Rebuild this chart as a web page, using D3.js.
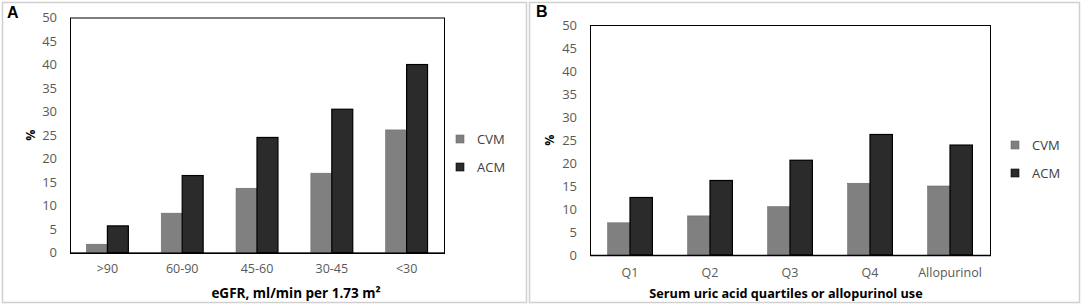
<!DOCTYPE html>
<html>
<head>
<meta charset="utf-8">
<script src="https://cdn.jsdelivr.net/npm/d3@7"></script>
<style>
  html, body { margin: 0; padding: 0; background: #fff; }
  svg { display: block; }
</style>
</head>
<body>
<svg id="chart" width="1084" height="306"></svg>
<script>
const seriesNames = ["CVM", "ACM"];
const yTicks = [0, 5, 10, 15, 20, 25, 30, 35, 40, 45, 50];

const categoriesA = [">90", "60-90", "45-60", "30-45", "<30"];
const cvmA = [1.8, 8.4, 13.7, 16.9, 26.1];
const acmA = [5.7, 16.4, 24.5, 30.5, 40.0];

const categoriesB = ["Q1", "Q2", "Q3", "Q4", "Allopurinol"];
const cvmB = [7.0, 8.5, 10.5, 15.6, 15.0];
const acmB = [12.5, 16.2, 20.6, 26.2, 23.9];

const colors = { CVM: "#808080", ACM: "#2b2b2b" };
const tickFont = "'Open Sans', 'DejaVu Sans', sans-serif";

const svg = d3.select("#chart");

function panel(cfg) {
  const g = svg.append("g");
  g.append("rect")
    .attr("x", cfg.box[0] + 0.5).attr("y", cfg.box[1] + 0.5)
    .attr("width", cfg.box[2]).attr("height", cfg.box[3])
    .attr("fill", "#fff").attr("stroke", "#d0d0d0").attr("stroke-width", 1.5);

  g.append("text").text(cfg.letter)
    .attr("x", cfg.letterPos[0]).attr("y", cfg.letterPos[1])
    .attr("font-family", "'Liberation Sans', Arial, sans-serif")
    .attr("font-weight", "bold").attr("font-size", 16).attr("fill", "#000");

  const [x0, y0, x1, y1] = cfg.plot;
  const x = d3.scaleBand().domain(cfg.categories).range([x0, x1]).padding(0);
  const y = d3.scaleLinear().domain([0, 50]).range([y1, y0]);
  const bw = x.bandwidth() * 0.28;

  const data = cfg.categories.map((c, i) => ({ c, CVM: cfg.cvm[i], ACM: cfg.acm[i] }));

  g.append("rect")
    .attr("x", x0 + 0.5).attr("y", y0 + 0.5)
    .attr("width", x1 - x0).attr("height", y1 - y0)
    .attr("fill", "none").attr("stroke", "#000").attr("stroke-width", 1);

  seriesNames.forEach((s, si) => {
    g.selectAll(null).data(data).enter().append("rect")
      .attr("x", d => x(d.c) + x.bandwidth() / 2 - bw + si * bw)
      .attr("y", d => y(d[s]))
      .attr("width", bw)
      .attr("height", d => y(0) - y(d[s]))
      .attr("fill", colors[s])
      .attr("stroke", si === 0 ? "#6a6a6a" : "#000")
      .attr("stroke-width", si === 0 ? 0.6 : 1.2);
  });

  g.append("line").attr("x1", x0).attr("x2", x1 + 1)
    .attr("y1", y(0) + 0.5).attr("y2", y(0) + 0.5)
    .attr("stroke", "#000").attr("stroke-width", 1.6);

  const yAxis = d3.axisLeft(y).tickValues(yTicks).tickSize(0).tickPadding(cfg.yPad);
  const ya = g.append("g").attr("transform", `translate(${x0},0)`).call(yAxis);
  ya.select(".domain").remove();
  ya.selectAll("text").attr("font-family", tickFont).attr("font-size", 13).attr("fill", "#595959");

  const xAxis = d3.axisBottom(x).tickSize(0).tickPadding(cfg.xPad);
  const xa = g.append("g").attr("transform", `translate(0,${y1})`).call(xAxis);
  xa.select(".domain").remove();
  xa.selectAll("text").attr("font-family", tickFont).attr("font-size", 12.5).attr("fill", "#595959");

  g.append("text").text("%")
    .attr("transform", `translate(${cfg.yTitle[0]},${cfg.yTitle[1]}) rotate(-90)`)
    .attr("text-anchor", "middle").attr("dominant-baseline", "central")
    .attr("font-family", tickFont).attr("font-weight", "bold").attr("font-size", 12.5).attr("fill", "#000");

  const xt = g.append("text")
    .attr("x", cfg.xTitle[0]).attr("y", cfg.xTitle[1])
    .attr("text-anchor", "middle")
    .attr("font-family", tickFont).attr("font-weight", "bold").attr("font-size", cfg.xTitleSize).attr("fill", "#000");
  xt.append("tspan").text(cfg.xTitleText);
  if (cfg.sup) xt.append("tspan").text(cfg.sup);

  seriesNames.forEach((s, i) => {
    const ly = cfg.legend[1] + i * 28;
    g.append("rect").attr("x", cfg.legend[0]).attr("y", ly - 4)
      .attr("width", 8).attr("height", 8)
      .attr("fill", colors[s]).attr("stroke", i === 0 ? "#6a6a6a" : "#000").attr("stroke-width", 0.6);
    g.append("text").text(s)
      .attr("x", cfg.legend[0] + 21).attr("y", ly)
      .attr("dominant-baseline", "central")
      .attr("font-family", tickFont).attr("font-size", 13).attr("fill", "#404040");
  });
}

panel({
  letter: "A", letterPos: [7, 18],
  box: [2, 2, 524, 300],
  plot: [70, 17.5, 444, 252.7],
  categories: categoriesA, cvm: cvmA, acm: acmA,
  yPad: 13, xPad: 11,
  yTitle: [30, 135],
  xTitle: [296, 297.5], xTitleText: "eGFR, ml/min per 1.73 m", sup: "²", xTitleSize: 13.5,
  legend: [456, 139]
});

panel({
  letter: "B", letterPos: [536, 17],
  box: [529, 2, 550, 300],
  plot: [590, 25, 990, 255],
  categories: categoriesB, cvm: cvmB, acm: acmB,
  yPad: 13, xPad: 13,
  yTitle: [549, 140],
  xTitle: [786, 297.5], xTitleText: "Serum uric acid quartiles or allopurinol use", xTitleSize: 12.7,
  legend: [1011, 145]
});
</script>
</body>
</html>
